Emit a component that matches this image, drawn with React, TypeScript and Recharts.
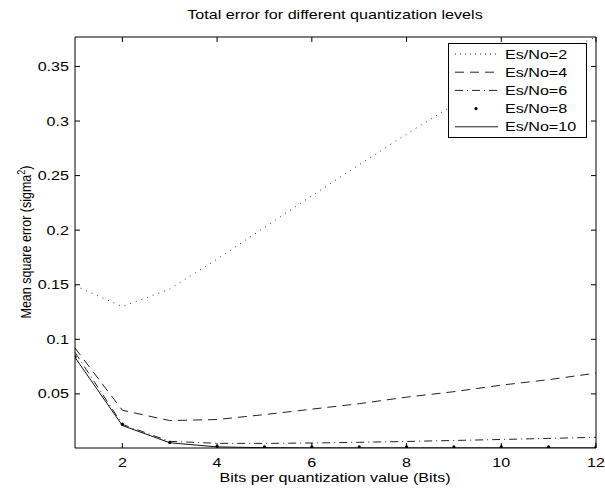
import React from 'react';
import { LineChart, Line, XAxis, YAxis } from 'recharts';

const bits = [1, 2, 3, 4, 5, 6, 7, 8, 9, 10, 11, 12];
const esNo2 = [0.149, 0.130, 0.146, 0.1735, 0.2025, 0.2315, 0.260, 0.288, 0.315, 0.338, 0.358, 0.377];
const esNo4 = [0.092, 0.035, 0.0255, 0.0265, 0.031, 0.036, 0.041, 0.047, 0.052, 0.058, 0.063, 0.069];
const esNo6 = [0.088, 0.022, 0.0065, 0.0047, 0.0046, 0.005, 0.0056, 0.0064, 0.0073, 0.0082, 0.0092, 0.0102];
const esNo8 = [0.084, 0.0222, 0.0055, 0.0019, 0.0015, 0.0014, 0.0014, 0.0014, 0.0014, 0.0014, 0.0014, 0.0014];
const esNo10 = [0.0834, 0.021, 0.0052, 0.0014, 0.0007, 0.0005, 0.0005, 0.0005, 0.0005, 0.0005, 0.0005, 0.0005];

const xTicks = [2, 4, 6, 8, 10, 12];
const yTicks = [0.05, 0.1, 0.15, 0.2, 0.25, 0.3, 0.35];

const data = bits.map((b, i) => ({
  bits: b,
  e2: esNo2[i],
  e4: esNo4[i],
  e6: esNo6[i],
  e8: esNo8[i],
  e10: esNo10[i],
}));

const FONT = '"Liberation Sans", Arial, Helvetica, sans-serif';
const FS = 13;
const SX = 1.24; // glyphs in the reference are stretched sideways

const legendRows = [
  { name: 'Es/No=2', dash: '1 4', dot: false },
  { name: 'Es/No=4', dash: '9 6', dot: false },
  { name: 'Es/No=6', dash: '8 4 1 4', dot: false },
  { name: 'Es/No=8', dash: '', dot: true },
  { name: 'Es/No=10', dash: '', dot: false },
];

const WideText = ({ x, y, anchor, children }: any) => (
  <text
    transform={`translate(${x},${y}) scale(${SX},1)`}
    textAnchor={anchor}
    fontFamily={FONT}
    fontSize={FS}
    fill="#000"
  >
    {children}
  </text>
);

const BottomTick = ({ x, y, payload }: any) => (
  <g>
    <line x1={x} x2={x} y1={y} y2={y - 5} stroke="#000" />
    <WideText x={x} y={y + 19} anchor="middle">{payload.value}</WideText>
  </g>
);

const TopTick = ({ x, y }: any) => <line x1={x} x2={x} y1={y} y2={y + 5} stroke="#000" />;

const LeftTick = ({ x, y, payload }: any) => (
  <g>
    <line x1={x} x2={x + 5} y1={y} y2={y} stroke="#000" />
    <WideText x={x - 6} y={y + 4.5} anchor="end">{payload.value}</WideText>
  </g>
);

const RightTick = ({ x, y }: any) => <line x1={x} x2={x - 5} y1={y} y2={y} stroke="#000" />;

const LegendBox = () => (
  <svg width={139} height={95} style={{ display: 'block' }}>
    <rect x={0.5} y={0.5} width={138} height={94} fill="#fff" stroke="#000" />
    {legendRows.map((r, i) => {
      const cy = 11 + i * 18.2;
      return (
        <g key={r.name}>
          {r.dot ? (
            <circle cx={28} cy={cy} r={1.6} fill="#000" />
          ) : (
            <line x1={7} x2={50} y1={cy} y2={cy} stroke="#222" strokeDasharray={r.dash || undefined} />
          )}
          <WideText x={57} y={cy + 4.5} anchor="start">{r.name}</WideText>
        </g>
      );
    })}
  </svg>
);

const textStyle: React.CSSProperties = {
  position: 'absolute', fontFamily: FONT, fontSize: FS, whiteSpace: 'nowrap', lineHeight: '14px',
};

export default function App() {
  return (
    <div style={{ position: 'absolute', left: 0, top: 0, width: 605, height: 489, background: '#fff' }}>
      <LineChart width={605} height={489} data={data} margin={{ top: 36, right: 8, bottom: 11, left: 15 }}>
        <XAxis
          xAxisId="b" dataKey="bits" type="number" domain={[1, 12]} ticks={xTicks} interval={0}
          height={30} tickSize={0} tickMargin={0} tickLine={false} tick={<BottomTick />}
          axisLine={{ stroke: '#000' }} allowDataOverflow
        />
        <XAxis
          xAxisId="t" orientation="top" dataKey="bits" type="number" domain={[1, 12]} ticks={xTicks} interval={0}
          height={1} tickSize={0} tickMargin={0} tickLine={false} tick={<TopTick />}
          axisLine={{ stroke: '#000' }} allowDataOverflow
        />
        <YAxis
          yAxisId="l" type="number" domain={[0.0004, 0.377]} ticks={yTicks} interval={0}
          width={60} tickSize={0} tickMargin={0} tickLine={false} tick={<LeftTick />}
          axisLine={{ stroke: '#000' }} allowDataOverflow
        />
        <YAxis
          yAxisId="r" orientation="right" type="number" domain={[0.0004, 0.377]} ticks={yTicks} interval={0}
          width={1} tickSize={0} tickMargin={0} tickLine={false} tick={<RightTick />}
          axisLine={{ stroke: '#000' }} allowDataOverflow
        />
        <Line xAxisId="b" yAxisId="l" dataKey="e2" type="linear" stroke="#333" strokeWidth={1} strokeDasharray="1 5" dot={false} isAnimationActive={false} />
        <Line xAxisId="b" yAxisId="l" dataKey="e4" type="linear" stroke="#222" strokeWidth={1} strokeDasharray="9 6" dot={false} isAnimationActive={false} />
        <Line xAxisId="b" yAxisId="l" dataKey="e6" type="linear" stroke="#222" strokeWidth={1} strokeDasharray="8 4 1 4" dot={false} isAnimationActive={false} />
        <Line xAxisId="b" yAxisId="l" dataKey="e8" type="linear" stroke="none" dot={{ r: 1.6, fill: '#000', stroke: 'none' }} isAnimationActive={false} />
        <Line xAxisId="b" yAxisId="l" dataKey="e10" type="linear" stroke="#111" strokeWidth={1} dot={false} isAnimationActive={false} />
      </LineChart>
      <div style={{ position: 'absolute', left: 448, top: 43 }}>
        <LegendBox />
      </div>
      <div style={{ ...textStyle, left: 335, top: 8, transform: `translateX(-50%) scaleX(${SX})` }}>
        Total error for different quantization levels
      </div>
      <div style={{ ...textStyle, left: 335, top: 471, transform: `translateX(-50%) scaleX(${SX})` }}>
        Bits per quantization value (Bits)
      </div>
      <div style={{ ...textStyle, fontSize: 12.5, left: 24, top: 242, transform: 'translate(-50%,-50%) rotate(-90deg) scaleY(1.15)' }}>
        Mean square error (sigma<sup style={{ fontSize: 9 }}>2</sup>)
      </div>
    </div>
  );
}
